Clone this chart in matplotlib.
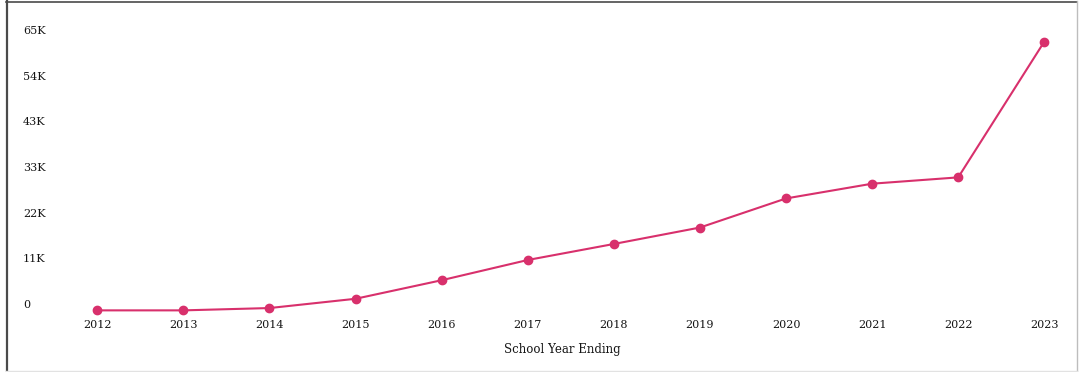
import matplotlib
matplotlib.use("Agg")
import matplotlib.pyplot as plt
from matplotlib.lines import Line2D
from matplotlib.transforms import ScaledTranslation

years = [2012, 2013, 2014, 2015, 2016, 2017, 2018, 2019, 2020, 2021, 2022, 2023]
values = [150, 150, 700, 2900, 7300, 12100, 15900, 19800, 26700, 30200, 31700, 63900]
ytick_values = [0, 65000 / 6, 2 * 65000 / 6, 3 * 65000 / 6, 4 * 65000 / 6, 5 * 65000 / 6, 65000]
ytick_labels = ["0", "11K", "22K", "33K", "43K", "54K", "65K"]
xlabel = "School Year Ending"

W, H = 1080, 372
fig = plt.figure(figsize=(W / 100, H / 100), dpi=100)
fig.patch.set_facecolor("white")

ax_left, ax_right, ax_top, ax_bottom = 60, 1080, 0, 316
ax = fig.add_axes([ax_left / W, 1 - ax_bottom / H, (ax_right - ax_left) / W, (ax_bottom - ax_top) / H])

px_per_year = (1044.3 - 97.3) / 11
ax.set_xlim(2012 - (97.3 - ax_left) / px_per_year, 2012 + (ax_right - 97.3) / px_per_year)
px_per_unit = 274 / 65000
zero_px = 311
ax.set_ylim((zero_px - ax_bottom) / px_per_unit, (zero_px - ax_top) / px_per_unit)

color = "#d8306c"
ax.plot(years, values, color=color, lw=1.5, marker="o", markersize=6,
        markerfacecolor=color, markeredgecolor=color, clip_on=False, zorder=3)

for s in ax.spines.values():
    s.set_visible(False)
ax.set_facecolor("none")

font = "DejaVu Serif"
txt_color = "#151515"
ax.set_xticks(years)
ax.set_xticklabels([str(y) for y in years], fontsize=8, family=font, color=txt_color)
ax.tick_params(axis="x", length=0, pad=3)

ax.set_yticks(ytick_values)
ax.set_yticklabels(ytick_labels, fontsize=8, family=font, color=txt_color)
ax.tick_params(axis="y", length=0, pad=(ax_left - 23) * 0.72)
for lab in ax.get_yticklabels():
    lab.set_horizontalalignment("left")
    lab.set_transform(lab.get_transform() + ScaledTranslation(0, 7 / 100, fig.dpi_scale_trans))

ax.set_xlabel(xlabel, fontsize=8.5, family=font, color=txt_color)
ax.xaxis.set_label_coords((562 - ax_left) / (ax_right - ax_left), (ax_bottom - 349) / (ax_bottom - ax_top))
ax.xaxis.label.set_verticalalignment("center")

# frame around picture
fig.add_artist(Line2D([6.5 / W, 6.5 / W], [1 - 1 / H, 1 - 371 / H], transform=fig.transFigure, color="#4a4a4a", lw=1.6))
fig.add_artist(Line2D([6 / W, 1077 / W], [1 - 1.5 / H, 1 - 1.5 / H], transform=fig.transFigure, color="#4a4a4a", lw=1.2))
fig.add_artist(Line2D([1077 / W, 1077 / W], [1 - 1 / H, 1 - 371 / H], transform=fig.transFigure, color="#bdbdbd", lw=1.0))
fig.add_artist(Line2D([6 / W, 1077 / W], [1 - 370.5 / H, 1 - 370.5 / H], transform=fig.transFigure, color="#e2e2e2", lw=1.0))

fig.savefig("out.png", dpi=100)
